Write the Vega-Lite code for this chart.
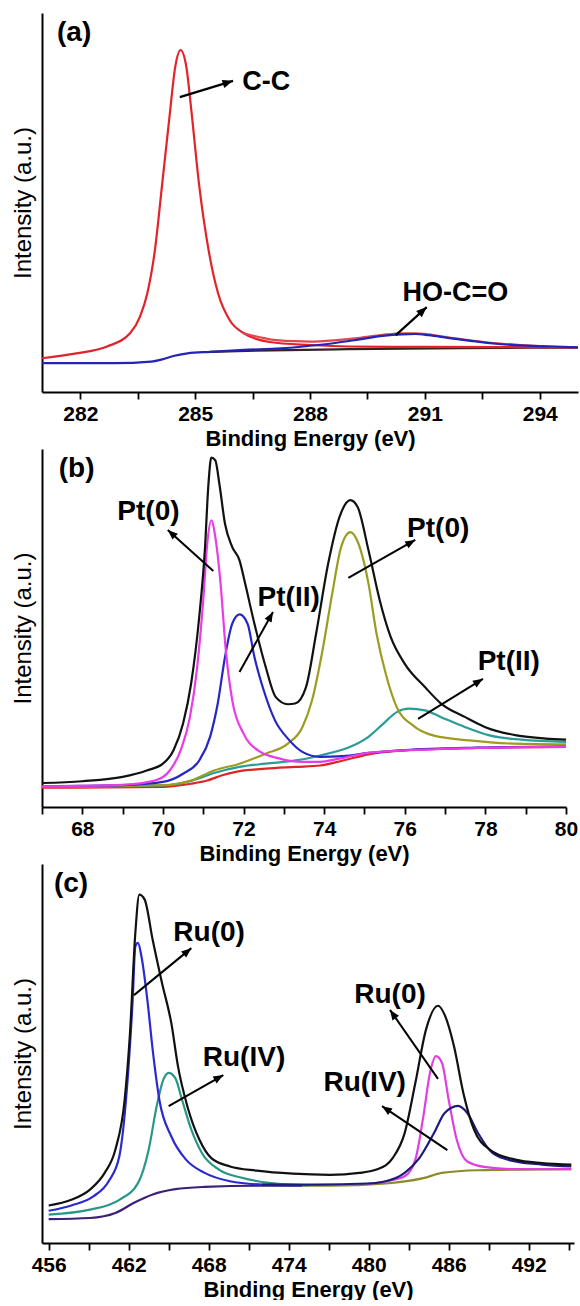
{
  "$schema": "https://vega.github.io/schema/vega-lite/v6.json",
  "padding": {"left": 11, "top": 13, "right": 0, "bottom": 0},
  "spacing": 0,
  "resolve": {"scale": {"color": "independent"}},
  "datasets": {
    "a_curves": [
      {"s":"bg","e":285.4,"i":10.6},{"s":"bg","e":287,"i":11.0},{"s":"bg","e":289,"i":11.3},{"s":"bg","e":292,"i":11.6},{"s":"bg","e":295,"i":11.7},
      {"s":"cc","e":281,"i":8.9},{"s":"cc","e":281.9,"i":10.2},{"s":"cc","e":282.7,"i":12.0},{"s":"cc","e":283.3,"i":15.5},{"s":"cc","e":283.56,"i":19.9},{"s":"cc","e":283.75,"i":26.0},{"s":"cc","e":283.95,"i":37.5},{"s":"cc","e":284.14,"i":55},{"s":"cc","e":284.33,"i":72.6},{"s":"cc","e":284.48,"i":85.8},{"s":"cc","e":284.62,"i":90.2},{"s":"cc","e":284.77,"i":85.8},{"s":"cc","e":284.9,"i":74.4},{"s":"cc","e":285.1,"i":55},{"s":"cc","e":285.35,"i":37.5},{"s":"cc","e":285.6,"i":26},{"s":"cc","e":285.9,"i":19},{"s":"cc","e":286.27,"i":15.5},{"s":"cc","e":286.95,"i":13.2},{"s":"cc","e":288,"i":12.4},{"s":"cc","e":289,"i":12.0},{"s":"cc","e":291,"i":11.9},{"s":"cc","e":295,"i":11.8},
      {"s":"env","e":286.27,"i":15.5},{"s":"env","e":286.95,"i":13.9},{"s":"env","e":287.6,"i":13.4},{"s":"env","e":288,"i":13.3},{"s":"env","e":288.7,"i":13.7},{"s":"env","e":289.3,"i":14.3},{"s":"env","e":289.9,"i":15.1},{"s":"env","e":290.4,"i":15.5},{"s":"env","e":290.75,"i":15.5},{"s":"env","e":291.1,"i":15.2},{"s":"env","e":291.6,"i":14.4},{"s":"env","e":292.2,"i":13.6},{"s":"env","e":292.8,"i":12.9},{"s":"env","e":293.5,"i":12.4},{"s":"env","e":294.3,"i":12.0},{"s":"env","e":295,"i":11.8},
      {"s":"hoco","e":281,"i":7.6},{"s":"hoco","e":282.9,"i":7.6},{"s":"hoco","e":283.85,"i":8.0},{"s":"hoco","e":284.14,"i":8.6},{"s":"hoco","e":284.43,"i":9.5},{"s":"hoco","e":284.8,"i":10.2},{"s":"hoco","e":285.4,"i":10.6},{"s":"hoco","e":286.27,"i":11.1},{"s":"hoco","e":287.24,"i":11.5},{"s":"hoco","e":288,"i":12.2},{"s":"hoco","e":288.7,"i":13.0},{"s":"hoco","e":289.3,"i":13.9},{"s":"hoco","e":289.9,"i":14.8},{"s":"hoco","e":290.4,"i":15.2},{"s":"hoco","e":290.75,"i":15.3},{"s":"hoco","e":291.1,"i":15.0},{"s":"hoco","e":291.6,"i":14.3},{"s":"hoco","e":292.2,"i":13.5},{"s":"hoco","e":292.8,"i":12.8},{"s":"hoco","e":293.5,"i":12.3},{"s":"hoco","e":294.3,"i":12.0},{"s":"hoco","e":295,"i":11.8}
    ],
    "a_arrows": [
      {"x":284.6,"y":77.8,"x2":285.99,"y2":82.1},
      {"x":290.24,"y":15.0,"x2":291.05,"y2":22.4}
    ],
    "a_labels": [
      {"x":286.86,"y":81.8,"t":"C-C"},
      {"x":291.8,"y":26.1,"t":"HO-C=O"}
    ],
    "a_tag": [{"x":281.84,"y":94.7,"t":"(a)"}],
    "b_curves": [
      {"s":"bg","e":67,"i":5.4},{"s":"bg","e":70,"i":5.6},{"s":"bg","e":70.7,"i":6.5},{"s":"bg","e":71.1,"i":7.4},{"s":"bg","e":71.45,"i":8.8},{"s":"bg","e":71.9,"i":10},{"s":"bg","e":72.55,"i":10.7},{"s":"bg","e":73.3,"i":11.2},{"s":"bg","e":73.9,"i":11.6},{"s":"bg","e":74.47,"i":13},{"s":"bg","e":75.1,"i":14.7},{"s":"bg","e":76,"i":15.8},{"s":"bg","e":77.8,"i":16.5},{"s":"bg","e":80,"i":16.8},
      {"s":"t2","e":67,"i":5.6},{"s":"t2","e":70,"i":6},{"s":"t2","e":70.7,"i":7.3},{"s":"t2","e":71.27,"i":9.5},{"s":"t2","e":71.9,"i":11.2},{"s":"t2","e":72.55,"i":12.1},{"s":"t2","e":73.3,"i":13},{"s":"t2","e":73.9,"i":14.4},{"s":"t2","e":74.65,"i":16.8},{"s":"t2","e":75.1,"i":19.6},{"s":"t2","e":75.47,"i":23.3},{"s":"t2","e":75.8,"i":26.5},{"s":"t2","e":76.1,"i":27.5},{"s":"t2","e":76.5,"i":27.0},{"s":"t2","e":76.9,"i":25.1},{"s":"t2","e":77.5,"i":22.3},{"s":"t2","e":78.1,"i":20},{"s":"t2","e":78.9,"i":18.8},{"s":"t2","e":80,"i":18.2},
      {"s":"o1","e":67,"i":5.6},{"s":"o1","e":70,"i":6.1},{"s":"o1","e":70.7,"i":7.4},{"s":"o1","e":71.27,"i":10.2},{"s":"o1","e":71.9,"i":12.1},{"s":"o1","e":72.55,"i":14.9},{"s":"o1","e":73.1,"i":17.7},{"s":"o1","e":73.46,"i":22.3},{"s":"o1","e":73.7,"i":29.8},{"s":"o1","e":73.96,"i":43.8},{"s":"o1","e":74.2,"i":59.6},{"s":"o1","e":74.42,"i":72.6},{"s":"o1","e":74.65,"i":76.8},{"s":"o1","e":74.85,"i":73.6},{"s":"o1","e":75.1,"i":62.4},{"s":"o1","e":75.3,"i":48.4},{"s":"o1","e":75.55,"i":36.3},{"s":"o1","e":75.8,"i":27.9},{"s":"o1","e":76.2,"i":22.8},{"s":"o1","e":76.7,"i":20},{"s":"o1","e":77.6,"i":18.6},{"s":"o1","e":78.7,"i":17.7},{"s":"o1","e":80,"i":17.5},
      {"s":"b1","e":67,"i":5.8},{"s":"b1","e":69,"i":6.1},{"s":"b1","e":70,"i":7.0},{"s":"b1","e":70.5,"i":9.3},{"s":"b1","e":70.9,"i":13},{"s":"b1","e":71.17,"i":19.6},{"s":"b1","e":71.36,"i":28.9},{"s":"b1","e":71.54,"i":41.9},{"s":"b1","e":71.72,"i":51.2},{"s":"b1","e":71.9,"i":53.8},{"s":"b1","e":72.1,"i":51.2},{"s":"b1","e":72.27,"i":41.9},{"s":"b1","e":72.5,"i":32.6},{"s":"b1","e":72.78,"i":24.2},{"s":"b1","e":73.1,"i":19.1},{"s":"b1","e":73.46,"i":15.4},{"s":"b1","e":73.9,"i":14.0},{"s":"b1","e":74.47,"i":14.2},{"s":"b1","e":75.1,"i":15.1},{"s":"b1","e":76,"i":15.9},{"s":"b1","e":77.8,"i":16.6},{"s":"b1","e":80,"i":16.9},
      {"s":"m1","e":67,"i":5.8},{"s":"m1","e":69,"i":6.2},{"s":"m1","e":69.8,"i":7.4},{"s":"m1","e":70.17,"i":10.2},{"s":"m1","e":70.44,"i":15.8},{"s":"m1","e":70.67,"i":25.1},{"s":"m1","e":70.85,"i":39.1},{"s":"m1","e":71.0,"i":57.7},{"s":"m1","e":71.1,"i":73.6},{"s":"m1","e":71.2,"i":80.1},{"s":"m1","e":71.3,"i":75.4},{"s":"m1","e":71.43,"i":62.4},{"s":"m1","e":71.56,"i":43.8},{"s":"m1","e":71.72,"i":29.8},{"s":"m1","e":72,"i":20.5},{"s":"m1","e":72.36,"i":15.8},{"s":"m1","e":72.9,"i":13.5},{"s":"m1","e":73.46,"i":12.6},{"s":"m1","e":73.9,"i":12.6},{"s":"m1","e":74.37,"i":13.5},{"s":"m1","e":75.1,"i":15.1},{"s":"m1","e":76,"i":15.8},{"s":"m1","e":77.8,"i":16.5},{"s":"m1","e":80,"i":16.8},
      {"s":"env","e":67,"i":6.7},{"s":"env","e":68,"i":7.2},{"s":"env","e":69,"i":8.4},{"s":"env","e":69.6,"i":10.2},{"s":"env","e":70,"i":12.1},{"s":"env","e":70.26,"i":15.8},{"s":"env","e":70.5,"i":23.3},{"s":"env","e":70.7,"i":34.5},{"s":"env","e":70.9,"i":53},{"s":"env","e":71.04,"i":71.7},{"s":"env","e":71.13,"i":90.3},{"s":"env","e":71.2,"i":97.6},{"s":"env","e":71.3,"i":96.8},{"s":"env","e":71.4,"i":90.3},{"s":"env","e":71.54,"i":79.1},{"s":"env","e":71.72,"i":72.6},{"s":"env","e":71.9,"i":68.9},{"s":"env","e":72.04,"i":62.4},{"s":"env","e":72.27,"i":51.2},{"s":"env","e":72.55,"i":39.1},{"s":"env","e":72.8,"i":30.7},{"s":"env","e":73.1,"i":28.7},{"s":"env","e":73.28,"i":28.9},{"s":"env","e":73.55,"i":33.5},{"s":"env","e":73.8,"i":48.4},{"s":"env","e":74.1,"i":68},{"s":"env","e":74.38,"i":81},{"s":"env","e":74.65,"i":85.7},{"s":"env","e":74.83,"i":83.8},{"s":"env","e":75.1,"i":71.7},{"s":"env","e":75.38,"i":57.7},{"s":"env","e":75.65,"i":47.5},{"s":"env","e":76,"i":40},{"s":"env","e":76.5,"i":33.5},{"s":"env","e":76.9,"i":28.9},{"s":"env","e":77.5,"i":25.1},{"s":"env","e":78,"i":22.3},{"s":"env","e":78.77,"i":20},{"s":"env","e":79.5,"i":19.1},{"s":"env","e":80,"i":18.8}
    ],
    "b_arrows": [
      {"x":71.25,"y":65.9,"x2":70.12,"y2":77.4},
      {"x":71.9,"y":37.7,"x2":72.73,"y2":54.5},
      {"x":74.6,"y":64,"x2":76.26,"y2":74.6},
      {"x":76.33,"y":24.6,"x2":77.94,"y2":35.8}
    ],
    "b_labels": [
      {"x":69.64,"y":82.4,"t":"Pt(0)"},
      {"x":73.12,"y":58.4,"t":"Pt(II)"},
      {"x":76.83,"y":77.7,"t":"Pt(0)"},
      {"x":78.58,"y":40.5,"t":"Pt(II)"}
    ],
    "b_tag": [{"x":67.86,"y":94.4,"t":"(b)"}],
    "c_curves": [
      {"s":"bg1","e":456,"i":6.3},{"s":"bg1","e":459.1,"i":6.6},{"s":"bg1","e":461,"i":7.9},{"s":"bg1","e":462.4,"i":10.6},{"s":"bg1","e":463.8,"i":12.8},{"s":"bg1","e":465.5,"i":14.2},{"s":"bg1","e":467.7,"i":14.8},{"s":"bg1","e":471.6,"i":15.1},{"s":"bg1","e":475,"i":15.1},
      {"s":"bg2","e":475,"i":15.1},{"s":"bg2","e":477.1,"i":15.1},{"s":"bg2","e":481.3,"i":15.7},{"s":"bg2","e":484.1,"i":17.1},{"s":"bg2","e":485.5,"i":18.5},{"s":"bg2","e":488.2,"i":19.2},{"s":"bg2","e":495.2,"i":19.5},
      {"s":"t1","e":456,"i":7.5},{"s":"t1","e":459.1,"i":8.8},{"s":"t1","e":461.3,"i":11.4},{"s":"t1","e":462.7,"i":15.8},{"s":"t1","e":463.5,"i":24.6},{"s":"t1","e":464.1,"i":36.1},{"s":"t1","e":464.6,"i":43.1},{"s":"t1","e":465,"i":44.9},{"s":"t1","e":465.5,"i":43.5},{"s":"t1","e":466,"i":37.8},{"s":"t1","e":466.7,"i":29.9},{"s":"t1","e":467.5,"i":23.7},{"s":"t1","e":468.8,"i":19.3},{"s":"t1","e":470.5,"i":17.2},{"s":"t1","e":472.7,"i":15.8},{"s":"t1","e":475.5,"i":15.2},
      {"s":"b1","e":456,"i":8.5},{"s":"b1","e":457.7,"i":9.9},{"s":"b1","e":459.35,"i":12.3},{"s":"b1","e":460.5,"i":16.3},{"s":"b1","e":461.3,"i":22.9},{"s":"b1","e":461.8,"i":37.8},{"s":"b1","e":462.3,"i":64.2},{"s":"b1","e":462.5,"i":78.3},{"s":"b1","e":462.7,"i":79.2},{"s":"b1","e":462.96,"i":75.6},{"s":"b1","e":463.4,"i":64.2},{"s":"b1","e":463.8,"i":51},{"s":"b1","e":464.3,"i":37.8},{"s":"b1","e":465.2,"i":28.1},{"s":"b1","e":466.3,"i":22},{"s":"b1","e":467.7,"i":18.5},{"s":"b1","e":469.6,"i":16.3},{"s":"b1","e":472.1,"i":15.4},{"s":"b1","e":475,"i":15.2},
      {"s":"m2","e":479.9,"i":15.6},{"s":"m2","e":481.3,"i":16.3},{"s":"m2","e":482.7,"i":17.6},{"s":"m2","e":483.5,"i":22},{"s":"m2","e":484.1,"i":33.4},{"s":"m2","e":484.6,"i":44.9},{"s":"m2","e":485.05,"i":49.3},{"s":"m2","e":485.5,"i":47.5},{"s":"m2","e":486,"i":37.8},{"s":"m2","e":486.6,"i":27.3},{"s":"m2","e":487.4,"i":21.5},{"s":"m2","e":488.8,"i":20},{"s":"m2","e":491,"i":19.5},{"s":"m2","e":495.2,"i":19.5},
      {"s":"n2","e":472,"i":15.4},{"s":"n2","e":476,"i":15.4},{"s":"n2","e":479.9,"i":15.7},{"s":"n2","e":481.3,"i":16.3},{"s":"n2","e":482.7,"i":18.5},{"s":"n2","e":483.8,"i":22.4},{"s":"n2","e":484.9,"i":29},{"s":"n2","e":485.7,"i":34.3},{"s":"n2","e":486.7,"i":36.2},{"s":"n2","e":487.4,"i":34.3},{"s":"n2","e":488.2,"i":29},{"s":"n2","e":489.3,"i":23.7},{"s":"n2","e":491,"i":21.5},{"s":"n2","e":493,"i":20.7},{"s":"n2","e":495.2,"i":20.2},
      {"s":"env","e":456,"i":9.9},{"s":"env","e":457.7,"i":11.4},{"s":"env","e":459.1,"i":14.1},{"s":"env","e":460.2,"i":18.5},{"s":"env","e":461,"i":24.6},{"s":"env","e":461.7,"i":37.8},{"s":"env","e":462.1,"i":55.4},{"s":"env","e":462.5,"i":81.8},{"s":"env","e":462.8,"i":91.9},{"s":"env","e":463.2,"i":90.6},{"s":"env","e":463.8,"i":80},{"s":"env","e":464.5,"i":68.6},{"s":"env","e":465.2,"i":58},{"s":"env","e":465.7,"i":46.6},{"s":"env","e":466.4,"i":36.1},{"s":"env","e":467.3,"i":27.3},{"s":"env","e":468.2,"i":22.4},{"s":"env","e":469.6,"i":20.2},{"s":"env","e":471.6,"i":19.1},{"s":"env","e":474.3,"i":18.3},{"s":"env","e":477.1,"i":18},{"s":"env","e":479.3,"i":18.5},{"s":"env","e":480.7,"i":19.5},{"s":"env","e":481.8,"i":22.4},{"s":"env","e":482.7,"i":29},{"s":"env","e":483.5,"i":42.2},{"s":"env","e":484.3,"i":56.3},{"s":"env","e":485.2,"i":62.6},{"s":"env","e":485.7,"i":60.2},{"s":"env","e":486.4,"i":51.9},{"s":"env","e":487.1,"i":39.6},{"s":"env","e":487.9,"i":29.9},{"s":"env","e":489.1,"i":24.6},{"s":"env","e":491,"i":22},{"s":"env","e":493,"i":21.1},{"s":"env","e":495.2,"i":20.7}
    ],
    "c_arrows": [
      {"x":462.4,"y":65.4,"x2":466.7,"y2":77.8},
      {"x":465.0,"y":36.1,"x2":469.1,"y2":44.3},
      {"x":485.2,"y":43.3,"x2":481.6,"y2":61.5},
      {"x":485.9,"y":24.5,"x2":481.0,"y2":36.1}
    ],
    "c_labels": [
      {"x":468.03,"y":81.8,"t":"Ru(0)"},
      {"x":470.65,"y":48.8,"t":"Ru(IV)"},
      {"x":481.6,"y":65.4,"t":"Ru(0)"},
      {"x":479.7,"y":42.2,"t":"Ru(IV)"}
    ],
    "c_tag": [{"x":457.68,"y":94.7,"t":"(c)"}]
  },
  "vconcat": [
    {
      "width": 536, "height": 379,
      "layer": [
        {
          "data": {"name": "a_curves"},
          "mark": {"type": "line", "strokeWidth": 2.2, "interpolate": "monotone"},
          "encoding": {
            "x": {"field": "e", "type": "quantitative", "scale": {"domain": [281, 295], "nice": false, "zero": false},
                  "axis": {"title": "Binding Energy (eV)", "values": [282, 283.5, 285, 286.5, 288, 289.5, 291, 292.5, 294], "labelExpr": "datum.value % 3 === 0 ? datum.label : ''"}},
            "y": {"field": "i", "type": "quantitative", "scale": {"domain": [0, 100], "nice": false}, "axis": {"title": "Intensity (a.u.)"}},
            "color": {"field": "s", "type": "nominal", "legend": null,
                      "scale": {"domain": ["bg", "cc", "env", "hoco"], "range": ["#3a2020", "#e3232b", "#e0484f", "#2424b4"]}}
          }
        },
        {
          "data": {"name": "a_arrows"},
          "mark": {"type": "rule", "strokeWidth": 2.2, "color": "#000"},
          "encoding": {"x": {"field": "x", "type": "quantitative"}, "y": {"field": "y", "type": "quantitative"}, "x2": {"field": "x2"}, "y2": {"field": "y2"}}
        },
        {
          "data": {"name": "a_arrows"},
          "transform": [{"calculate": "atan2(-(datum.y2 - datum.y) * 3.79, (datum.x2 - datum.x) * 38.3) * 180 / PI", "as": "ang"}],
          "mark": {"type": "point", "shape": "M0,0L-2,-0.8L-2,0.8Z", "filled": true, "color": "#000", "opacity": 1, "size": 110},
          "encoding": {"x": {"field": "x2", "type": "quantitative"}, "y": {"field": "y2", "type": "quantitative"}, "angle": {"field": "ang", "type": "quantitative", "scale": null}}
        },
        {
          "data": {"name": "a_labels"},
          "mark": {"type": "text", "font": "Liberation Sans", "fontSize": 27, "fontWeight": "bold", "color": "#000", "align": "center", "baseline": "middle"},
          "encoding": {"x": {"field": "x", "type": "quantitative"}, "y": {"field": "y", "type": "quantitative"}, "text": {"field": "t"}}
        },
        {
          "data": {"name": "a_tag"},
          "mark": {"type": "text", "font": "Liberation Sans", "fontSize": 28, "fontWeight": "bold", "color": "#000", "align": "center", "baseline": "middle"},
          "encoding": {"x": {"field": "x", "type": "quantitative"}, "y": {"field": "y", "type": "quantitative"}, "text": {"field": "t"}}
        }
      ]
    },
    {
      "width": 524, "height": 358,
      "layer": [
        {
          "data": {"name": "b_curves"},
          "mark": {"type": "line", "strokeWidth": 2.2, "interpolate": "monotone"},
          "encoding": {
            "x": {"field": "e", "type": "quantitative", "scale": {"domain": [67, 80], "nice": false, "zero": false},
                  "axis": {"title": "Binding Energy (eV)", "values": [67, 68, 69, 70, 71, 72, 73, 74, 75, 76, 77, 78, 79, 80], "labelExpr": "datum.value % 2 === 0 ? datum.label : ''"}},
            "y": {"field": "i", "type": "quantitative", "scale": {"domain": [0, 100], "nice": false}, "axis": {"title": "Intensity (a.u.)"}},
            "color": {"field": "s", "type": "nominal", "legend": null,
                      "scale": {"domain": ["bg", "t2", "o1", "b1", "m1", "env"], "range": ["#e02424", "#2a9c98", "#9c9c22", "#2626c4", "#e83ce6", "#111111"]}}
          }
        },
        {
          "data": {"name": "b_arrows"},
          "mark": {"type": "rule", "strokeWidth": 2, "color": "#000"},
          "encoding": {"x": {"field": "x", "type": "quantitative"}, "y": {"field": "y", "type": "quantitative"}, "x2": {"field": "x2"}, "y2": {"field": "y2"}}
        },
        {
          "data": {"name": "b_arrows"},
          "transform": [{"calculate": "atan2(-(datum.y2 - datum.y) * 3.58, (datum.x2 - datum.x) * 40.3) * 180 / PI", "as": "ang"}],
          "mark": {"type": "point", "shape": "M0,0L-2,-0.8L-2,0.8Z", "filled": true, "color": "#000", "opacity": 1, "size": 100},
          "encoding": {"x": {"field": "x2", "type": "quantitative"}, "y": {"field": "y2", "type": "quantitative"}, "angle": {"field": "ang", "type": "quantitative", "scale": null}}
        },
        {
          "data": {"name": "b_labels"},
          "mark": {"type": "text", "font": "Liberation Sans", "fontSize": 28, "fontWeight": "bold", "color": "#000", "align": "center", "baseline": "middle"},
          "encoding": {"x": {"field": "x", "type": "quantitative"}, "y": {"field": "y", "type": "quantitative"}, "text": {"field": "t"}}
        },
        {
          "data": {"name": "b_tag"},
          "mark": {"type": "text", "font": "Liberation Sans", "fontSize": 28, "fontWeight": "bold", "color": "#000", "align": "center", "baseline": "middle"},
          "encoding": {"x": {"field": "x", "type": "quantitative"}, "y": {"field": "y", "type": "quantitative"}, "text": {"field": "t"}}
        }
      ]
    },
    {
      "width": 532, "height": 379,
      "layer": [
        {
          "data": {"name": "c_curves"},
          "mark": {"type": "line", "strokeWidth": 2.2, "interpolate": "monotone"},
          "encoding": {
            "x": {"field": "e", "type": "quantitative", "scale": {"domain": [455.5, 495.4], "nice": false, "zero": false},
                  "axis": {"title": "Binding Energy (eV)", "values": [456, 459, 462, 465, 468, 471, 474, 477, 480, 483, 486, 489, 492, 495], "labelExpr": "datum.value % 6 === 0 ? datum.label : ''"}},
            "y": {"field": "i", "type": "quantitative", "scale": {"domain": [0, 100], "nice": false}, "axis": {"title": "Intensity (a.u.)"}},
            "color": {"field": "s", "type": "nominal", "legend": null,
                      "scale": {"domain": ["bg1", "bg2", "t1", "b1", "m2", "n2", "env"], "range": ["#3c1f7a", "#8c8a2c", "#2a9688", "#2a2ad0", "#e03ee0", "#1c1c7e", "#111111"]}}
          }
        },
        {
          "data": {"name": "c_arrows"},
          "mark": {"type": "rule", "strokeWidth": 2, "color": "#000"},
          "encoding": {"x": {"field": "x", "type": "quantitative"}, "y": {"field": "y", "type": "quantitative"}, "x2": {"field": "x2"}, "y2": {"field": "y2"}}
        },
        {
          "data": {"name": "c_arrows"},
          "transform": [{"calculate": "atan2(-(datum.y2 - datum.y) * 3.79, (datum.x2 - datum.x) * 13.33) * 180 / PI", "as": "ang"}],
          "mark": {"type": "point", "shape": "M0,0L-2,-0.8L-2,0.8Z", "filled": true, "color": "#000", "opacity": 1, "size": 100},
          "encoding": {"x": {"field": "x2", "type": "quantitative"}, "y": {"field": "y2", "type": "quantitative"}, "angle": {"field": "ang", "type": "quantitative", "scale": null}}
        },
        {
          "data": {"name": "c_labels"},
          "mark": {"type": "text", "font": "Liberation Sans", "fontSize": 28, "fontWeight": "bold", "color": "#000", "align": "center", "baseline": "middle"},
          "encoding": {"x": {"field": "x", "type": "quantitative"}, "y": {"field": "y", "type": "quantitative"}, "text": {"field": "t"}}
        },
        {
          "data": {"name": "c_tag"},
          "mark": {"type": "text", "font": "Liberation Sans", "fontSize": 28, "fontWeight": "bold", "color": "#000", "align": "center", "baseline": "middle"},
          "encoding": {"x": {"field": "x", "type": "quantitative"}, "y": {"field": "y", "type": "quantitative"}, "text": {"field": "t"}}
        }
      ]
    }
  ],
  "config": {
    "view": {"stroke": null},
    "font": "Liberation Sans",
    "axisX": {"domainColor": "#000", "domainWidth": 2, "tickColor": "#000", "tickWidth": 1.8, "tickSize": 7, "grid": false,
              "labelFont": "Liberation Sans", "labelFontSize": 21, "labelFontWeight": "bold", "labelColor": "#000", "labelPadding": 4, "labelFlush": false, "labelOverlap": false,
              "titleFont": "Liberation Sans", "titleFontSize": 22, "titleFontWeight": "bold", "titleColor": "#000", "titlePadding": 4},
    "axisY": {"domainColor": "#000", "domainWidth": 2, "ticks": false, "labels": false, "grid": false,
              "titleFont": "Liberation Sans", "titleFontSize": 24, "titleFontWeight": "normal", "titleColor": "#000", "titlePadding": 7}
  }
}
